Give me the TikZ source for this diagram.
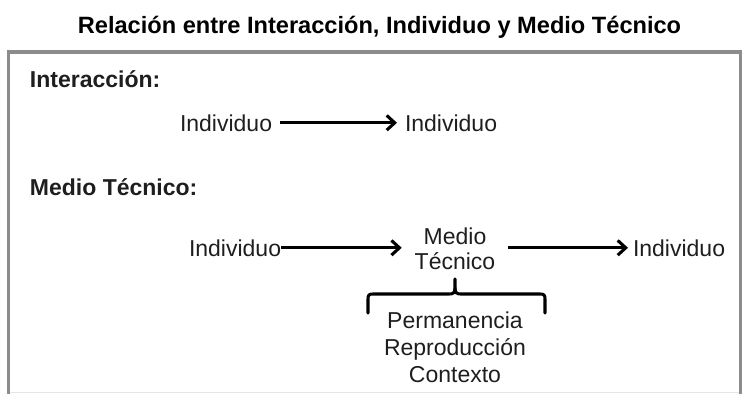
\documentclass[tikz,border=0pt]{standalone}
\usepackage{fontspec}
\setmainfont{Liberation Sans}
\usetikzlibrary{arrows.meta}
\definecolor{boxgray}{RGB}{140,140,140}
\definecolor{txt}{RGB}{30,30,30}
\begin{document}
\begin{tikzpicture}[x=0.75pt,y=-0.75pt,
  lbl/.style={inner sep=0pt,outer sep=0pt,text=txt,font=\fontsize{17.25}{18.75}\selectfont},
  hdr/.style={lbl,font=\fontsize{17.25}{18.75}\selectfont\bfseries},
  ttl/.style={inner sep=0pt,font=\fontsize{17.7}{20}\selectfont\bfseries},
  arr/.style={line width=2.5pt,-{Straight Barb[length=6pt,width=11pt,line width=2.3pt]}},
  brc/.style={line width=2.3pt,line cap=round}]
\useasboundingbox (0,0) rectangle (743,394);
% frame (open at bottom)
\draw[boxgray,line width=2.5pt] (8.5,394) -- (8.5,52) -- (740.5,52) -- (740.5,394);
\draw[black!10,line width=0.75pt] (10,392.5) -- (739,392.5);
% title
\node[ttl,anchor=base] (title) at (379.5,33) {Relación entre Interacción, Individuo y Medio Técnico};
% section 1
\node[hdr,anchor=base west] (h1) at (30,87) {Interacción:};
\node[lbl,anchor=base west] (i1) at (180,131) {Individuo};
\node[lbl,anchor=base west] (i2) at (405,131) {Individuo};
\draw[arr,shorten <=6pt,shorten >=6pt] (i1.east) -- (i2.west);
% section 2
\node[hdr,anchor=base west] (h2) at (30,195) {Medio Técnico:};
\node[lbl,anchor=base west] (i3) at (189,256) {Individuo};
\node[lbl,align=center,anchor=north,font=\fontsize{17.25}{18.75}\selectfont] (mt) at (455,228) {Medio\\Técnico};
\node[lbl,anchor=base west] (i4) at (633,256) {Individuo};
\draw[arr,shorten >=9.75pt] (i3.east) -- (i3.east -| mt.west);
\draw[arr,shorten <=9.75pt,shorten >=3.75pt] (i4.west -| mt.east) -- (i4.west);
% brace
\coordinate (btip) at (455,279);
\coordinate (bl) at (368,313);
\coordinate (br) at (545,313);
\draw[brc] (bl) -- (368,299) .. controls (368,295) and (369,294) .. (373,294) -- (449,294)
  .. controls (453,294) and (455,293) .. (455,288) -- (btip);
\draw[brc] (br) -- (545,299) .. controls (545,295) and (544,294) .. (540,294) -- (461,294)
  .. controls (457,294) and (455,293) .. (455,288);
\node[lbl,align=center,anchor=north,font=\fontsize{17.25}{20.25}\selectfont] (lst) at (455,312) {Permanencia\\Reproducción\\Contexto};
\end{tikzpicture}
\end{document}
